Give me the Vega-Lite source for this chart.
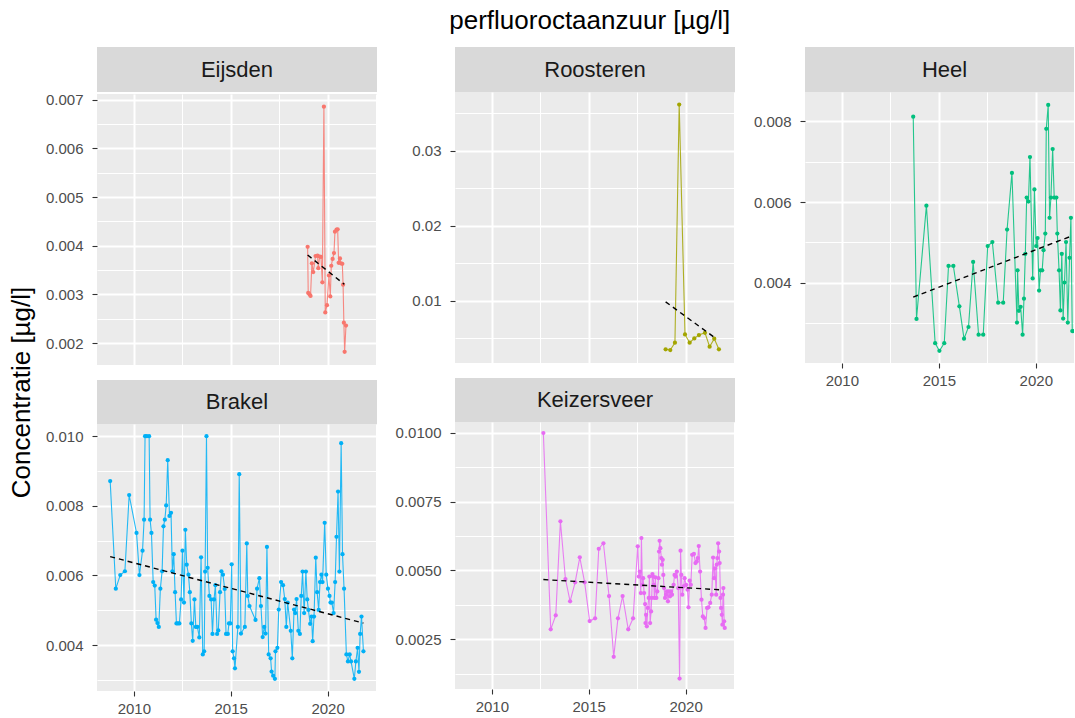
{
"$schema": "https://vega.github.io/schema/vega-lite/v6.json",
"padding": {"left": 9, "top": 8, "right": 0, "bottom": 0},
"config": {
  "font": "Liberation Sans",
  "view": {"fill": "#EBEBEB", "stroke": null},
  "axis": {"labelColor": "#4D4D4D", "labelFontSize": 15, "tickColor": "#333333", "tickSize": 5, "tickWidth": 1.1, "domain": false, "gridColor": "#FFFFFF", "labelFlush": false},
  "axisX": {"labelPadding": 5},
  "axisY": {"labelPadding": 9},
  "title": {"font": "Liberation Sans", "fontWeight": "normal", "color": "#000000"}
},
"datasets": {
  "obs": [
    {"station":"Eijsden","t":2018.97,"c":0.00398},{"station":"Eijsden","t":2019.00,"c":0.00303},{"station":"Eijsden","t":2019.07,"c":0.00300},{"station":"Eijsden","t":2019.12,"c":0.00297},{"station":"Eijsden","t":2019.19,"c":0.00364},{"station":"Eijsden","t":2019.26,"c":0.00346},{"station":"Eijsden","t":2019.38,"c":0.00379},{"station":"Eijsden","t":2019.48,"c":0.00380},{"station":"Eijsden","t":2019.52,"c":0.00354},{"station":"Eijsden","t":2019.59,"c":0.00378},{"station":"Eijsden","t":2019.66,"c":0.00377},{"station":"Eijsden","t":2019.73,"c":0.00325},{"station":"Eijsden","t":2019.81,"c":0.00686},{"station":"Eijsden","t":2019.88,"c":0.00263},{"station":"Eijsden","t":2019.97,"c":0.00278},{"station":"Eijsden","t":2020.07,"c":0.00339},{"station":"Eijsden","t":2020.14,"c":0.00296},{"station":"Eijsden","t":2020.19,"c":0.00359},{"station":"Eijsden","t":2020.26,"c":0.00373},{"station":"Eijsden","t":2020.33,"c":0.00385},{"station":"Eijsden","t":2020.38,"c":0.00429},{"station":"Eijsden","t":2020.46,"c":0.00433},{"station":"Eijsden","t":2020.52,"c":0.00434},{"station":"Eijsden","t":2020.57,"c":0.00365},{"station":"Eijsden","t":2020.64,"c":0.00374},{"station":"Eijsden","t":2020.69,"c":0.00364},{"station":"Eijsden","t":2020.76,"c":0.00363},{"station":"Eijsden","t":2020.80,"c":0.00320},{"station":"Eijsden","t":2020.84,"c":0.00242},{"station":"Eijsden","t":2020.88,"c":0.00182},{"station":"Eijsden","t":2020.95,"c":0.00236},
    {"station":"Roosteren","t":2018.97,"c":0.00354},{"station":"Roosteren","t":2019.21,"c":0.00345},{"station":"Roosteren","t":2019.45,"c":0.00442},{"station":"Roosteren","t":2019.67,"c":0.03615},{"station":"Roosteren","t":2019.97,"c":0.00553},{"station":"Roosteren","t":2020.21,"c":0.00442},{"station":"Roosteren","t":2020.45,"c":0.00500},{"station":"Roosteren","t":2020.69,"c":0.00544},{"station":"Roosteren","t":2021.00,"c":0.00575},{"station":"Roosteren","t":2021.24,"c":0.00389},{"station":"Roosteren","t":2021.48,"c":0.00496},{"station":"Roosteren","t":2021.72,"c":0.00354},
    {"station":"Heel","t":2013.68,"c":0.00811},{"station":"Heel","t":2013.85,"c":0.00311},{"station":"Heel","t":2014.36,"c":0.00591},{"station":"Heel","t":2014.81,"c":0.00251},{"station":"Heel","t":2015.03,"c":0.00232},{"station":"Heel","t":2015.28,"c":0.00251},{"station":"Heel","t":2015.50,"c":0.00442},{"station":"Heel","t":2015.75,"c":0.00442},{"station":"Heel","t":2016.06,"c":0.00342},{"station":"Heel","t":2016.30,"c":0.00262},{"station":"Heel","t":2016.53,"c":0.00291},{"station":"Heel","t":2016.77,"c":0.00452},{"station":"Heel","t":2017.05,"c":0.00272},{"station":"Heel","t":2017.29,"c":0.00272},{"station":"Heel","t":2017.52,"c":0.00491},{"station":"Heel","t":2017.76,"c":0.00501},{"station":"Heel","t":2018.06,"c":0.00351},{"station":"Heel","t":2018.32,"c":0.00351},{"station":"Heel","t":2018.52,"c":0.00532},{"station":"Heel","t":2018.77,"c":0.00672},{"station":"Heel","t":2019.03,"c":0.00302},{"station":"Heel","t":2019.06,"c":0.00431},{"station":"Heel","t":2019.13,"c":0.00331},{"station":"Heel","t":2019.22,"c":0.00341},{"station":"Heel","t":2019.32,"c":0.00272},{"station":"Heel","t":2019.39,"c":0.00361},{"station":"Heel","t":2019.46,"c":0.00472},{"station":"Heel","t":2019.53,"c":0.00611},{"station":"Heel","t":2019.62,"c":0.00601},{"station":"Heel","t":2019.70,"c":0.00711},{"station":"Heel","t":2019.84,"c":0.00411},{"station":"Heel","t":2019.93,"c":0.00631},{"station":"Heel","t":2020.02,"c":0.00491},{"station":"Heel","t":2020.09,"c":0.00511},{"station":"Heel","t":2020.17,"c":0.00381},{"station":"Heel","t":2020.24,"c":0.00431},{"station":"Heel","t":2020.33,"c":0.00431},{"station":"Heel","t":2020.40,"c":0.00481},{"station":"Heel","t":2020.49,"c":0.00522},{"station":"Heel","t":2020.54,"c":0.00781},{"station":"Heel","t":2020.64,"c":0.00840},{"station":"Heel","t":2020.71,"c":0.00561},{"station":"Heel","t":2020.78,"c":0.00611},{"station":"Heel","t":2020.87,"c":0.00731},{"station":"Heel","t":2020.95,"c":0.00611},{"station":"Heel","t":2021.06,"c":0.00611},{"station":"Heel","t":2021.11,"c":0.00522},{"station":"Heel","t":2021.20,"c":0.00431},{"station":"Heel","t":2021.27,"c":0.00332},{"station":"Heel","t":2021.34,"c":0.00472},{"station":"Heel","t":2021.41,"c":0.00312},{"station":"Heel","t":2021.48,"c":0.00401},{"station":"Heel","t":2021.56,"c":0.00501},{"station":"Heel","t":2021.65,"c":0.00302},{"station":"Heel","t":2021.74,"c":0.00462},{"station":"Heel","t":2021.81,"c":0.00561},{"station":"Heel","t":2021.88,"c":0.00281},{"station":"Heel","t":2021.98,"c":0.00281},
    {"station":"Brakel","t":2008.78,"c":0.00871},{"station":"Brakel","t":2009.07,"c":0.00562},{"station":"Brakel","t":2009.30,"c":0.00601},{"station":"Brakel","t":2009.54,"c":0.00612},{"station":"Brakel","t":2009.76,"c":0.00831},{"station":"Brakel","t":2010.14,"c":0.00722},{"station":"Brakel","t":2010.29,"c":0.00601},{"station":"Brakel","t":2010.45,"c":0.00671},{"station":"Brakel","t":2010.53,"c":0.00760},{"station":"Brakel","t":2010.58,"c":0.01000},{"station":"Brakel","t":2010.67,"c":0.01000},{"station":"Brakel","t":2010.79,"c":0.01000},{"station":"Brakel","t":2010.84,"c":0.00760},{"station":"Brakel","t":2010.91,"c":0.00722},{"station":"Brakel","t":2011.00,"c":0.00581},{"station":"Brakel","t":2011.08,"c":0.00571},{"station":"Brakel","t":2011.15,"c":0.00473},{"station":"Brakel","t":2011.22,"c":0.00463},{"station":"Brakel","t":2011.29,"c":0.00452},{"station":"Brakel","t":2011.37,"c":0.00562},{"station":"Brakel","t":2011.46,"c":0.00612},{"station":"Brakel","t":2011.53,"c":0.00741},{"station":"Brakel","t":2011.60,"c":0.00760},{"station":"Brakel","t":2011.67,"c":0.00801},{"station":"Brakel","t":2011.75,"c":0.00931},{"station":"Brakel","t":2011.84,"c":0.00771},{"station":"Brakel","t":2011.92,"c":0.00780},{"station":"Brakel","t":2011.99,"c":0.00612},{"station":"Brakel","t":2012.06,"c":0.00661},{"station":"Brakel","t":2012.13,"c":0.00552},{"station":"Brakel","t":2012.20,"c":0.00462},{"station":"Brakel","t":2012.27,"c":0.00462},{"station":"Brakel","t":2012.35,"c":0.00462},{"station":"Brakel","t":2012.44,"c":0.00531},{"station":"Brakel","t":2012.51,"c":0.00671},{"station":"Brakel","t":2012.59,"c":0.00522},{"station":"Brakel","t":2012.66,"c":0.00731},{"station":"Brakel","t":2012.73,"c":0.00631},{"station":"Brakel","t":2012.82,"c":0.00602},{"station":"Brakel","t":2012.89,"c":0.00552},{"station":"Brakel","t":2012.97,"c":0.00462},{"station":"Brakel","t":2013.04,"c":0.00412},{"station":"Brakel","t":2013.13,"c":0.00531},{"station":"Brakel","t":2013.20,"c":0.00452},{"station":"Brakel","t":2013.28,"c":0.00452},{"station":"Brakel","t":2013.38,"c":0.00422},{"station":"Brakel","t":2013.47,"c":0.00652},{"station":"Brakel","t":2013.56,"c":0.00373},{"station":"Brakel","t":2013.63,"c":0.00382},{"station":"Brakel","t":2013.68,"c":0.00611},{"station":"Brakel","t":2013.75,"c":0.01000},{"station":"Brakel","t":2013.81,"c":0.00622},{"station":"Brakel","t":2013.90,"c":0.00541},{"station":"Brakel","t":2013.99,"c":0.00531},{"station":"Brakel","t":2014.06,"c":0.00432},{"station":"Brakel","t":2014.14,"c":0.00531},{"station":"Brakel","t":2014.21,"c":0.00572},{"station":"Brakel","t":2014.30,"c":0.00432},{"station":"Brakel","t":2014.36,"c":0.00442},{"station":"Brakel","t":2014.45,"c":0.00552},{"station":"Brakel","t":2014.52,"c":0.00612},{"station":"Brakel","t":2014.60,"c":0.00602},{"station":"Brakel","t":2014.69,"c":0.00561},{"station":"Brakel","t":2014.76,"c":0.00432},{"station":"Brakel","t":2014.85,"c":0.00432},{"station":"Brakel","t":2014.91,"c":0.00462},{"station":"Brakel","t":2014.98,"c":0.00462},{"station":"Brakel","t":2015.05,"c":0.00632},{"station":"Brakel","t":2015.10,"c":0.00382},{"station":"Brakel","t":2015.17,"c":0.00362},{"station":"Brakel","t":2015.22,"c":0.00333},{"station":"Brakel","t":2015.37,"c":0.00452},{"station":"Brakel","t":2015.44,"c":0.00891},{"station":"Brakel","t":2015.53,"c":0.00433},{"station":"Brakel","t":2015.73,"c":0.00452},{"station":"Brakel","t":2015.83,"c":0.00692},{"station":"Brakel","t":2015.88,"c":0.00541},{"station":"Brakel","t":2015.97,"c":0.00512},{"station":"Brakel","t":2016.28,"c":0.00472},{"station":"Brakel","t":2016.36,"c":0.00562},{"station":"Brakel","t":2016.48,"c":0.00592},{"station":"Brakel","t":2016.56,"c":0.00512},{"station":"Brakel","t":2016.65,"c":0.00423},{"station":"Brakel","t":2016.73,"c":0.00452},{"station":"Brakel","t":2016.80,"c":0.00433},{"station":"Brakel","t":2016.87,"c":0.00682},{"station":"Brakel","t":2016.96,"c":0.00373},{"station":"Brakel","t":2017.06,"c":0.00362},{"station":"Brakel","t":2017.11,"c":0.00324},{"station":"Brakel","t":2017.19,"c":0.00312},{"station":"Brakel","t":2017.28,"c":0.00303},{"station":"Brakel","t":2017.31,"c":0.00382},{"station":"Brakel","t":2017.41,"c":0.00392},{"station":"Brakel","t":2017.48,"c":0.00502},{"station":"Brakel","t":2017.60,"c":0.00581},{"station":"Brakel","t":2017.70,"c":0.00572},{"station":"Brakel","t":2017.79,"c":0.00532},{"station":"Brakel","t":2017.87,"c":0.00452},{"station":"Brakel","t":2017.94,"c":0.00522},{"station":"Brakel","t":2018.10,"c":0.00441},{"station":"Brakel","t":2018.18,"c":0.00362},{"station":"Brakel","t":2018.27,"c":0.00502},{"station":"Brakel","t":2018.33,"c":0.00492},{"station":"Brakel","t":2018.40,"c":0.00532},{"station":"Brakel","t":2018.49,"c":0.00441},{"station":"Brakel","t":2018.57,"c":0.00432},{"station":"Brakel","t":2018.64,"c":0.00541},{"station":"Brakel","t":2018.71,"c":0.00611},{"station":"Brakel","t":2018.79,"c":0.00492},{"station":"Brakel","t":2018.88,"c":0.00611},{"station":"Brakel","t":2018.95,"c":0.00531},{"station":"Brakel","t":2019.01,"c":0.00501},{"station":"Brakel","t":2019.10,"c":0.00461},{"station":"Brakel","t":2019.17,"c":0.00482},{"station":"Brakel","t":2019.23,"c":0.00411},{"station":"Brakel","t":2019.30,"c":0.00482},{"station":"Brakel","t":2019.39,"c":0.00651},{"station":"Brakel","t":2019.46,"c":0.00552},{"station":"Brakel","t":2019.54,"c":0.00501},{"station":"Brakel","t":2019.61,"c":0.00581},{"station":"Brakel","t":2019.68,"c":0.00602},{"station":"Brakel","t":2019.74,"c":0.00581},{"station":"Brakel","t":2019.85,"c":0.00751},{"station":"Brakel","t":2019.93,"c":0.00602},{"station":"Brakel","t":2020.02,"c":0.00562},{"station":"Brakel","t":2020.10,"c":0.00541},{"station":"Brakel","t":2020.15,"c":0.00522},{"station":"Brakel","t":2020.22,"c":0.00522},{"station":"Brakel","t":2020.31,"c":0.00492},{"station":"Brakel","t":2020.39,"c":0.00581},{"station":"Brakel","t":2020.46,"c":0.00711},{"station":"Brakel","t":2020.54,"c":0.00841},{"station":"Brakel","t":2020.61,"c":0.00611},{"station":"Brakel","t":2020.70,"c":0.00980},{"station":"Brakel","t":2020.77,"c":0.00661},{"station":"Brakel","t":2020.85,"c":0.00562},{"station":"Brakel","t":2020.97,"c":0.00373},{"station":"Brakel","t":2021.05,"c":0.00353},{"station":"Brakel","t":2021.14,"c":0.00373},{"station":"Brakel","t":2021.21,"c":0.00353},{"station":"Brakel","t":2021.38,"c":0.00303},{"station":"Brakel","t":2021.46,"c":0.00353},{"station":"Brakel","t":2021.55,"c":0.00392},{"station":"Brakel","t":2021.62,"c":0.00323},{"station":"Brakel","t":2021.68,"c":0.00432},{"station":"Brakel","t":2021.75,"c":0.00482},{"station":"Brakel","t":2021.85,"c":0.00382},
    {"station":"Keizersveer","t":2012.66,"c":0.01000},{"station":"Keizersveer","t":2013.04,"c":0.00286},{"station":"Keizersveer","t":2013.30,"c":0.00337},{"station":"Keizersveer","t":2013.54,"c":0.00679},{"station":"Keizersveer","t":2013.80,"c":0.00469},{"station":"Keizersveer","t":2014.04,"c":0.00388},{"station":"Keizersveer","t":2014.30,"c":0.00457},{"station":"Keizersveer","t":2014.54,"c":0.00548},{"station":"Keizersveer","t":2014.79,"c":0.00457},{"station":"Keizersveer","t":2015.05,"c":0.00316},{"station":"Keizersveer","t":2015.33,"c":0.00326},{"station":"Keizersveer","t":2015.52,"c":0.00579},{"station":"Keizersveer","t":2015.76,"c":0.00599},{"station":"Keizersveer","t":2016.05,"c":0.00407},{"station":"Keizersveer","t":2016.29,"c":0.00186},{"station":"Keizersveer","t":2016.51,"c":0.00326},{"station":"Keizersveer","t":2016.75,"c":0.00407},{"station":"Keizersveer","t":2017.04,"c":0.00286},{"station":"Keizersveer","t":2017.29,"c":0.00326},{"station":"Keizersveer","t":2017.53,"c":0.00588},{"station":"Keizersveer","t":2017.59,"c":0.00478},{"station":"Keizersveer","t":2017.64,"c":0.00496},{"station":"Keizersveer","t":2017.69,"c":0.00418},{"station":"Keizersveer","t":2017.72,"c":0.00618},{"station":"Keizersveer","t":2017.77,"c":0.00448},{"station":"Keizersveer","t":2017.81,"c":0.00472},{"station":"Keizersveer","t":2017.86,"c":0.00418},{"station":"Keizersveer","t":2017.91,"c":0.00378},{"station":"Keizersveer","t":2017.93,"c":0.00309},{"station":"Keizersveer","t":2017.96,"c":0.00339},{"station":"Keizersveer","t":2018.00,"c":0.00297},{"station":"Keizersveer","t":2018.05,"c":0.00364},{"station":"Keizersveer","t":2018.10,"c":0.00400},{"station":"Keizersveer","t":2018.13,"c":0.00478},{"station":"Keizersveer","t":2018.17,"c":0.00309},{"station":"Keizersveer","t":2018.22,"c":0.00351},{"station":"Keizersveer","t":2018.25,"c":0.00400},{"station":"Keizersveer","t":2018.29,"c":0.00487},{"station":"Keizersveer","t":2018.32,"c":0.00478},{"station":"Keizersveer","t":2018.36,"c":0.00448},{"station":"Keizersveer","t":2018.39,"c":0.00400},{"station":"Keizersveer","t":2018.44,"c":0.00475},{"station":"Keizersveer","t":2018.49,"c":0.00400},{"station":"Keizersveer","t":2018.54,"c":0.00424},{"station":"Keizersveer","t":2018.60,"c":0.00472},{"station":"Keizersveer","t":2018.63,"c":0.00569},{"station":"Keizersveer","t":2018.66,"c":0.00608},{"station":"Keizersveer","t":2018.70,"c":0.00581},{"station":"Keizersveer","t":2018.75,"c":0.00545},{"station":"Keizersveer","t":2018.78,"c":0.00521},{"station":"Keizersveer","t":2018.82,"c":0.00539},{"station":"Keizersveer","t":2018.85,"c":0.00484},{"station":"Keizersveer","t":2018.89,"c":0.00436},{"station":"Keizersveer","t":2018.94,"c":0.00400},{"station":"Keizersveer","t":2018.99,"c":0.00412},{"station":"Keizersveer","t":2019.04,"c":0.00424},{"station":"Keizersveer","t":2019.09,"c":0.00388},{"station":"Keizersveer","t":2019.14,"c":0.00424},{"station":"Keizersveer","t":2019.20,"c":0.00406},{"station":"Keizersveer","t":2019.25,"c":0.00424},{"station":"Keizersveer","t":2019.30,"c":0.00412},{"station":"Keizersveer","t":2019.38,"c":0.00448},{"station":"Keizersveer","t":2019.43,"c":0.00484},{"station":"Keizersveer","t":2019.49,"c":0.00478},{"station":"Keizersveer","t":2019.55,"c":0.00496},{"station":"Keizersveer","t":2019.62,"c":0.00436},{"station":"Keizersveer","t":2019.69,"c":0.00107},{"station":"Keizersveer","t":2019.74,"c":0.00572},{"station":"Keizersveer","t":2019.78,"c":0.00484},{"station":"Keizersveer","t":2019.83,"c":0.00412},{"station":"Keizersveer","t":2019.90,"c":0.00442},{"station":"Keizersveer","t":2019.95,"c":0.00472},{"station":"Keizersveer","t":2020.03,"c":0.00448},{"station":"Keizersveer","t":2020.10,"c":0.00430},{"station":"Keizersveer","t":2020.15,"c":0.00366},{"station":"Keizersveer","t":2020.21,"c":0.00463},{"station":"Keizersveer","t":2020.27,"c":0.00448},{"station":"Keizersveer","t":2020.34,"c":0.00557},{"station":"Keizersveer","t":2020.43,"c":0.00560},{"station":"Keizersveer","t":2020.51,"c":0.00527},{"station":"Keizersveer","t":2020.58,"c":0.00533},{"station":"Keizersveer","t":2020.63,"c":0.00545},{"station":"Keizersveer","t":2020.68,"c":0.00589},{"station":"Keizersveer","t":2020.75,"c":0.00496},{"station":"Keizersveer","t":2020.82,"c":0.00394},{"station":"Keizersveer","t":2020.89,"c":0.00333},{"station":"Keizersveer","t":2020.96,"c":0.00327},{"station":"Keizersveer","t":2021.03,"c":0.00291},{"station":"Keizersveer","t":2021.11,"c":0.00364},{"station":"Keizersveer","t":2021.18,"c":0.00366},{"station":"Keizersveer","t":2021.27,"c":0.00382},{"station":"Keizersveer","t":2021.35,"c":0.00412},{"station":"Keizersveer","t":2021.42,"c":0.00547},{"station":"Keizersveer","t":2021.47,"c":0.00472},{"station":"Keizersveer","t":2021.52,"c":0.00508},{"station":"Keizersveer","t":2021.58,"c":0.00412},{"station":"Keizersveer","t":2021.61,"c":0.00521},{"station":"Keizersveer","t":2021.64,"c":0.00545},{"station":"Keizersveer","t":2021.68,"c":0.00599},{"station":"Keizersveer","t":2021.73,"c":0.00569},{"station":"Keizersveer","t":2021.76,"c":0.00527},{"station":"Keizersveer","t":2021.80,"c":0.00400},{"station":"Keizersveer","t":2021.83,"c":0.00364},{"station":"Keizersveer","t":2021.87,"c":0.00339},{"station":"Keizersveer","t":2021.90,"c":0.00303},{"station":"Keizersveer","t":2021.93,"c":0.00412},{"station":"Keizersveer","t":2021.95,"c":0.00436},{"station":"Keizersveer","t":2021.99,"c":0.00315},{"station":"Keizersveer","t":2022.02,"c":0.00291}
  ],
  "trend": [
    {"station":"Eijsden","t":2018.97,"c":0.00381},{"station":"Eijsden","t":2020.86,"c":0.00321},
    {"station":"Roosteren","t":2018.97,"c":0.00987},{"station":"Roosteren","t":2021.46,"c":0.00518},
    {"station":"Heel","t":2013.68,"c":0.00365},{"station":"Heel","t":2021.90,"c":0.00517},
    {"station":"Brakel","t":2008.78,"c":0.00654},{"station":"Brakel","t":2021.85,"c":0.00463},
    {"station":"Keizersveer","t":2012.66,"c":0.00467},{"station":"Keizersveer","t":2021.75,"c":0.00430}
  ]
},
"title": {"text": "perfluoroctaanzuur [µg/l]", "fontSize": 26, "anchor": "middle", "offset": 13, "dx": 48},
"vconcat": [{
  "title": {"text": "Concentratie [µg/l]", "orient": "left", "fontSize": 26, "anchor": "middle", "offset": 10, "dx": -11},
  "hconcat": [
    {"spacing": 15, "vconcat": [
      {"spacing": 0, "vconcat": [
        {"width": 280, "height": 45, "view": {"fill": "#D9D9D9"}, "data": {"values": [{"label": "Eijsden"}]}, "mark": {"type": "text", "fontSize": 22, "color": "#1A1A1A"}, "encoding": {"text": {"field": "label"}}},
        {"width": 280, "height": 271,
         "resolve": {"scale": {"x": "independent", "y": "independent"}, "axis": {"x": "independent", "y": "independent"}},
         "layer": [
          {"data": {"name": "obs"}, "transform": [{"filter": "datum.station === 'Eijsden'"}], "mark": {"type": "line", "color": "#F8766D", "strokeWidth": 1.1, "opacity": 0.85},
           "encoding": {"x": {"field": "t", "type": "quantitative", "scale": {"domain": [2008.1, 2022.55], "nice": false, "zero": false}, "axis": {"title": null, "values": [2010, 2015, 2020], "grid": true, "gridWidth": 2, "labels": false, "ticks": false}},
                        "y": {"field": "c", "type": "quantitative", "scale": {"domain": [0.00155, 0.00712], "nice": false, "zero": false}, "axis": {"title": null, "values": [0.002, 0.003, 0.004, 0.005, 0.006, 0.007], "format": ".3f", "grid": true, "gridWidth": 2}}}},
          {"data": {"name": "obs"}, "transform": [{"filter": "datum.station === 'Eijsden'"}], "mark": {"type": "circle", "color": "#F8766D", "size": 18, "opacity": 1},
           "encoding": {"x": {"field": "t", "type": "quantitative", "scale": {"domain": [2008.1, 2022.55], "nice": false, "zero": false}, "axis": null},
                        "y": {"field": "c", "type": "quantitative", "scale": {"domain": [0.00155, 0.00712], "nice": false, "zero": false}, "axis": null}}},
          {"data": {"name": "trend"}, "transform": [{"filter": "datum.station === 'Eijsden'"}], "mark": {"type": "line", "color": "#000000", "strokeWidth": 1.4, "strokeDash": [5, 4]},
           "encoding": {"x": {"field": "t", "type": "quantitative", "scale": {"domain": [2008.1, 2022.55], "nice": false, "zero": false}, "axis": {"title": null, "orient": "top", "values": [2012.5, 2017.5, 2022.5], "grid": true, "gridWidth": 1, "labels": false, "ticks": false}},
                        "y": {"field": "c", "type": "quantitative", "scale": {"domain": [0.00155, 0.00712], "nice": false, "zero": false}, "axis": {"title": null, "orient": "right", "values": [0.0025, 0.0035, 0.0045, 0.0055, 0.0065], "grid": true, "gridWidth": 1, "labels": false, "ticks": false}}}}
         ]}
      ]},
      {"spacing": 0, "vconcat": [
        {"width": 280, "height": 44, "view": {"fill": "#D9D9D9"}, "data": {"values": [{"label": "Brakel"}]}, "mark": {"type": "text", "fontSize": 22, "color": "#1A1A1A"}, "encoding": {"text": {"field": "label"}}},
        {"width": 280, "height": 267,
         "resolve": {"scale": {"x": "independent", "y": "independent"}, "axis": {"x": "independent", "y": "independent"}},
         "layer": [
          {"data": {"name": "obs"}, "transform": [{"filter": "datum.station === 'Brakel'"}], "mark": {"type": "line", "color": "#00B0F6", "strokeWidth": 1.1, "opacity": 0.85},
           "encoding": {"x": {"field": "t", "type": "quantitative", "scale": {"domain": [2008.1, 2022.55], "nice": false, "zero": false}, "axis": {"title": null, "values": [2010, 2015, 2020], "format": "d", "grid": true, "gridWidth": 2}},
                        "y": {"field": "c", "type": "quantitative", "scale": {"domain": [0.00268, 0.01035], "nice": false, "zero": false}, "axis": {"title": null, "values": [0.004, 0.006, 0.008, 0.010], "format": ".3f", "grid": true, "gridWidth": 2}}}},
          {"data": {"name": "obs"}, "transform": [{"filter": "datum.station === 'Brakel'"}], "mark": {"type": "circle", "color": "#00B0F6", "size": 18, "opacity": 1},
           "encoding": {"x": {"field": "t", "type": "quantitative", "scale": {"domain": [2008.1, 2022.55], "nice": false, "zero": false}, "axis": null},
                        "y": {"field": "c", "type": "quantitative", "scale": {"domain": [0.00268, 0.01035], "nice": false, "zero": false}, "axis": null}}},
          {"data": {"name": "trend"}, "transform": [{"filter": "datum.station === 'Brakel'"}], "mark": {"type": "line", "color": "#000000", "strokeWidth": 1.4, "strokeDash": [5, 4]},
           "encoding": {"x": {"field": "t", "type": "quantitative", "scale": {"domain": [2008.1, 2022.55], "nice": false, "zero": false}, "axis": {"title": null, "orient": "top", "values": [2012.5, 2017.5, 2022.5], "grid": true, "gridWidth": 1, "labels": false, "ticks": false}},
                        "y": {"field": "c", "type": "quantitative", "scale": {"domain": [0.00268, 0.01035], "nice": false, "zero": false}, "axis": {"title": null, "orient": "right", "values": [0.003, 0.005, 0.007, 0.009], "grid": true, "gridWidth": 1, "labels": false, "ticks": false}}}}
         ]}
      ]}
    ]},
    {"spacing": 15, "vconcat": [
      {"spacing": 0, "vconcat": [
        {"width": 280, "height": 45, "view": {"fill": "#D9D9D9"}, "data": {"values": [{"label": "Roosteren"}]}, "mark": {"type": "text", "fontSize": 22, "color": "#1A1A1A"}, "encoding": {"text": {"field": "label"}}},
        {"width": 280, "height": 271,
         "resolve": {"scale": {"x": "independent", "y": "independent"}, "axis": {"x": "independent", "y": "independent"}},
         "layer": [
          {"data": {"name": "obs"}, "transform": [{"filter": "datum.station === 'Roosteren'"}], "mark": {"type": "line", "color": "#A3A500", "strokeWidth": 1.1, "opacity": 0.85},
           "encoding": {"x": {"field": "t", "type": "quantitative", "scale": {"domain": [2008.1, 2022.55], "nice": false, "zero": false}, "axis": {"title": null, "values": [2010, 2015, 2020], "grid": true, "gridWidth": 2, "labels": false, "ticks": false}},
                        "y": {"field": "c", "type": "quantitative", "scale": {"domain": [0.00172, 0.03783], "nice": false, "zero": false}, "axis": {"title": null, "values": [0.01, 0.02, 0.03], "format": ".2f", "grid": true, "gridWidth": 2}}}},
          {"data": {"name": "obs"}, "transform": [{"filter": "datum.station === 'Roosteren'"}], "mark": {"type": "circle", "color": "#A3A500", "size": 18, "opacity": 1},
           "encoding": {"x": {"field": "t", "type": "quantitative", "scale": {"domain": [2008.1, 2022.55], "nice": false, "zero": false}, "axis": null},
                        "y": {"field": "c", "type": "quantitative", "scale": {"domain": [0.00172, 0.03783], "nice": false, "zero": false}, "axis": null}}},
          {"data": {"name": "trend"}, "transform": [{"filter": "datum.station === 'Roosteren'"}], "mark": {"type": "line", "color": "#000000", "strokeWidth": 1.4, "strokeDash": [5, 4]},
           "encoding": {"x": {"field": "t", "type": "quantitative", "scale": {"domain": [2008.1, 2022.55], "nice": false, "zero": false}, "axis": {"title": null, "orient": "top", "values": [2012.5, 2017.5, 2022.5], "grid": true, "gridWidth": 1, "labels": false, "ticks": false}},
                        "y": {"field": "c", "type": "quantitative", "scale": {"domain": [0.00172, 0.03783], "nice": false, "zero": false}, "axis": {"title": null, "orient": "right", "values": [0.005, 0.015, 0.025, 0.035], "grid": true, "gridWidth": 1, "labels": false, "ticks": false}}}}
         ]}
      ]},
      {"spacing": 0, "vconcat": [
        {"width": 280, "height": 44, "view": {"fill": "#D9D9D9"}, "data": {"values": [{"label": "Keizersveer"}]}, "mark": {"type": "text", "fontSize": 22, "color": "#1A1A1A"}, "encoding": {"text": {"field": "label"}}},
        {"width": 280, "height": 267,
         "resolve": {"scale": {"x": "independent", "y": "independent"}, "axis": {"x": "independent", "y": "independent"}},
         "layer": [
          {"data": {"name": "obs"}, "transform": [{"filter": "datum.station === 'Keizersveer'"}], "mark": {"type": "line", "color": "#E76BF3", "strokeWidth": 1.1, "opacity": 0.85},
           "encoding": {"x": {"field": "t", "type": "quantitative", "scale": {"domain": [2008.1, 2022.55], "nice": false, "zero": false}, "axis": {"title": null, "values": [2010, 2015, 2020], "format": "d", "grid": true, "gridWidth": 2}},
                        "y": {"field": "c", "type": "quantitative", "scale": {"domain": [0.00069, 0.0104], "nice": false, "zero": false}, "axis": {"title": null, "values": [0.0025, 0.005, 0.0075, 0.01], "format": ".4f", "grid": true, "gridWidth": 2}}}},
          {"data": {"name": "obs"}, "transform": [{"filter": "datum.station === 'Keizersveer'"}], "mark": {"type": "circle", "color": "#E76BF3", "size": 18, "opacity": 1},
           "encoding": {"x": {"field": "t", "type": "quantitative", "scale": {"domain": [2008.1, 2022.55], "nice": false, "zero": false}, "axis": null},
                        "y": {"field": "c", "type": "quantitative", "scale": {"domain": [0.00069, 0.0104], "nice": false, "zero": false}, "axis": null}}},
          {"data": {"name": "trend"}, "transform": [{"filter": "datum.station === 'Keizersveer'"}], "mark": {"type": "line", "color": "#000000", "strokeWidth": 1.4, "strokeDash": [5, 4]},
           "encoding": {"x": {"field": "t", "type": "quantitative", "scale": {"domain": [2008.1, 2022.55], "nice": false, "zero": false}, "axis": {"title": null, "orient": "top", "values": [2012.5, 2017.5, 2022.5], "grid": true, "gridWidth": 1, "labels": false, "ticks": false}},
                        "y": {"field": "c", "type": "quantitative", "scale": {"domain": [0.00069, 0.0104], "nice": false, "zero": false}, "axis": {"title": null, "orient": "right", "values": [0.00125, 0.00375, 0.00625, 0.00875], "grid": true, "gridWidth": 1, "labels": false, "ticks": false}}}}
         ]}
      ]}
    ]},
    {"spacing": 0, "vconcat": [
      {"width": 269, "height": 45, "view": {"fill": "#D9D9D9"}, "data": {"values": [{"label": "Heel"}]}, "mark": {"type": "text", "fontSize": 22, "color": "#1A1A1A", "dx": 5}, "encoding": {"text": {"field": "label"}}},
      {"width": 269, "height": 271,
       "resolve": {"scale": {"x": "independent", "y": "independent"}, "axis": {"x": "independent", "y": "independent"}},
       "layer": [
        {"data": {"name": "obs"}, "transform": [{"filter": "datum.station === 'Heel'"}], "mark": {"type": "line", "color": "#00BF7D", "strokeWidth": 1.1, "opacity": 0.85, "clip": true},
         "encoding": {"x": {"field": "t", "type": "quantitative", "scale": {"domain": [2008.1, 2021.97], "nice": false, "zero": false}, "axis": {"title": null, "values": [2010, 2015, 2020], "format": "d", "grid": true, "gridWidth": 2}},
                      "y": {"field": "c", "type": "quantitative", "scale": {"domain": [0.00202, 0.00872], "nice": false, "zero": false}, "axis": {"title": null, "values": [0.002, 0.004, 0.006, 0.008], "format": ".3f", "grid": true, "gridWidth": 2}}}},
        {"data": {"name": "obs"}, "transform": [{"filter": "datum.station === 'Heel'"}], "mark": {"type": "circle", "color": "#00BF7D", "size": 18, "opacity": 1, "clip": true},
         "encoding": {"x": {"field": "t", "type": "quantitative", "scale": {"domain": [2008.1, 2021.97], "nice": false, "zero": false}, "axis": null},
                      "y": {"field": "c", "type": "quantitative", "scale": {"domain": [0.00202, 0.00872], "nice": false, "zero": false}, "axis": null}}},
        {"data": {"name": "trend"}, "transform": [{"filter": "datum.station === 'Heel'"}], "mark": {"type": "line", "color": "#000000", "strokeWidth": 1.4, "strokeDash": [5, 4], "clip": true},
         "encoding": {"x": {"field": "t", "type": "quantitative", "scale": {"domain": [2008.1, 2021.97], "nice": false, "zero": false}, "axis": {"title": null, "orient": "top", "values": [2012.5, 2017.5], "grid": true, "gridWidth": 1, "labels": false, "ticks": false}},
                      "y": {"field": "c", "type": "quantitative", "scale": {"domain": [0.00202, 0.00872], "nice": false, "zero": false}, "axis": {"title": null, "orient": "right", "values": [0.003, 0.005, 0.007], "grid": true, "gridWidth": 1, "labels": false, "ticks": false}}}}
       ]}
    ]}
  ],
  "spacing": 18
}]
}
